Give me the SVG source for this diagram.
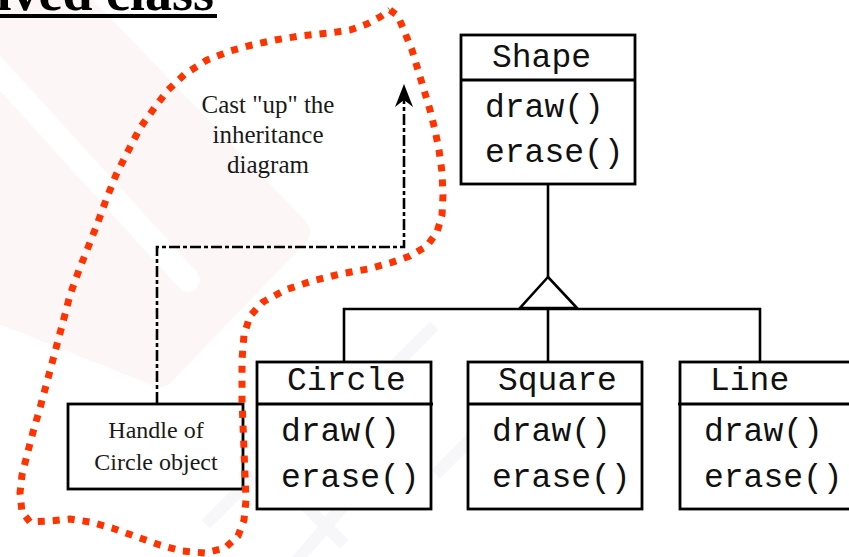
<svg xmlns="http://www.w3.org/2000/svg" width="849" height="557" viewBox="0 0 849 557">
  <style>
    .box{fill:#fff;stroke:#000;stroke-width:2.8}
    .rule{stroke:#000;stroke-width:2.8}
    .mono{font-family:"Liberation Mono","Courier New",monospace;font-size:33px;fill:#111}
    .serif{font-family:"Liberation Serif","Times New Roman",serif;fill:#1a1a1a}
    .edge{fill:none;stroke:#000;stroke-width:2.6}
    .cast{fill:none;stroke:#000;stroke-width:2.6;stroke-dasharray:11 3 4 3}
    .scope{fill:none;stroke:#ff3300;stroke-width:7;stroke-dasharray:7 8;stroke-linejoin:round}
    .wm-gray{fill:none;stroke:#f7f7fa;stroke-width:12;stroke-linecap:square}
  </style>

  <rect width="849" height="557" fill="#fff"/>

  <!-- faint background watermark -->
  <g id="watermark">
    <polygon points="-20,20 80,8 295,232 160,372 -20,300" fill="#fcf6f6" stroke="#fcf6f6" stroke-width="30" stroke-linejoin="round"/>
    <line x1="-10" y1="62" x2="188" y2="280" stroke="#fff" stroke-width="24" stroke-linecap="round"/>
    <path class="wm-gray" d="M300,557 L400,440 M330,520 L420,420 M270,470 L340,540 M380,380 L430,330 M210,520 L250,480 M440,470 L470,440"/>
  </g>

  <!-- slide title fragment -->
  <g id="title">
    <text x="214" y="10" text-anchor="end" font-family="'Liberation Serif','Times New Roman',serif" font-weight="bold" font-size="54" fill="#000">ived class</text>
    <rect x="0" y="14" width="217" height="4" fill="#000"/>
  </g>

  <!-- inheritance connectors -->
  <g id="connectors">
    <line class="edge" x1="548" y1="184" x2="548" y2="277"/>
    <polygon points="548,277 520,308 577,308" fill="#fff" stroke="#000" stroke-width="2.6" stroke-linejoin="miter"/>
    <polyline class="edge" points="344,362 344,309 760,309 760,362"/>
    <line class="edge" x1="548" y1="308" x2="548" y2="362"/>
    <!-- upcast path from handle to base class -->
    <path class="cast" d="M157,403 V247 H404 V95"/>
    <path d="M404,84 L395,107 L404,100 L413,107 Z" fill="#000"/>
  </g>

  <g id="shape">
    <rect class="box" x="461" y="35" width="174" height="149"/>
    <line class="rule" x1="461" y1="80" x2="635" y2="80"/>
    <text class="mono" x="492" y="67">Shape</text>
    <text class="mono" x="485" y="117">draw()</text>
    <text class="mono" x="485" y="162">erase()</text>
  </g>

  <g id="circle">
    <rect class="box" x="257" y="362" width="174" height="147"/>
    <line class="rule" x1="257" y1="404" x2="433" y2="404"/>
    <text class="mono" x="287" y="390">Circle</text>
    <text class="mono" x="281" y="441">draw()</text>
    <text class="mono" x="281" y="487">erase()</text>
  </g>

  <g id="square">
    <rect class="box" x="468" y="362" width="174" height="147"/>
    <line class="rule" x1="468" y1="404" x2="642" y2="404"/>
    <text class="mono" x="498" y="390">Square</text>
    <text class="mono" x="492" y="441">draw()</text>
    <text class="mono" x="492" y="487">erase()</text>
  </g>

  <g id="line">
    <rect class="box" x="680" y="362" width="180" height="147"/>
    <line class="rule" x1="678" y1="404" x2="860" y2="404"/>
    <text class="mono" x="710" y="390">Line</text>
    <text class="mono" x="704" y="441">draw()</text>
    <text class="mono" x="704" y="487">erase()</text>
  </g>

  <g id="handle">
    <rect class="box" x="68" y="404" width="175" height="85"/>
    <text class="serif" font-size="24" x="156" y="438" text-anchor="middle">Handle of</text>
    <text class="serif" font-size="24" x="156" y="470" text-anchor="middle">Circle object</text>
  </g>

  <g id="cast-label">
    <text class="serif" font-size="25" x="268" y="113" text-anchor="middle">Cast "up" the</text>
    <text class="serif" font-size="25" x="268" y="143" text-anchor="middle">inheritance</text>
    <text class="serif" font-size="25" x="268" y="173" text-anchor="middle">diagram</text>
  </g>

  <!-- dotted outline around the handle and the upcast -->
  <g id="scope">
    <polyline class="scope" points="390,10 398,16 405,33 412,50 418,70 424,90 430,110 435,130 439,150 442,172 443,195 442,215 437,232 427,246 410,256 390,263 368,269 340,274 312,281 285,290 263,302 250,316 244,335 242,360 242,400 244,450 246,500 244,520 238,536 225,548 205,553 182,551 160,545 137,537 112,528 90,522 70,519 50,521 30,522 22,512 20,493 22,475 27,455 33,432 40,408 47,382 55,352 63,322 70,295 79,270 89,245 98,222 106,200 116,175 126,155 140,128 155,107 168,90 185,74 207,60 230,51 252,45 275,40 300,36 330,33 350,30 367,24 380,17 390,10"/>
  </g>
</svg>
